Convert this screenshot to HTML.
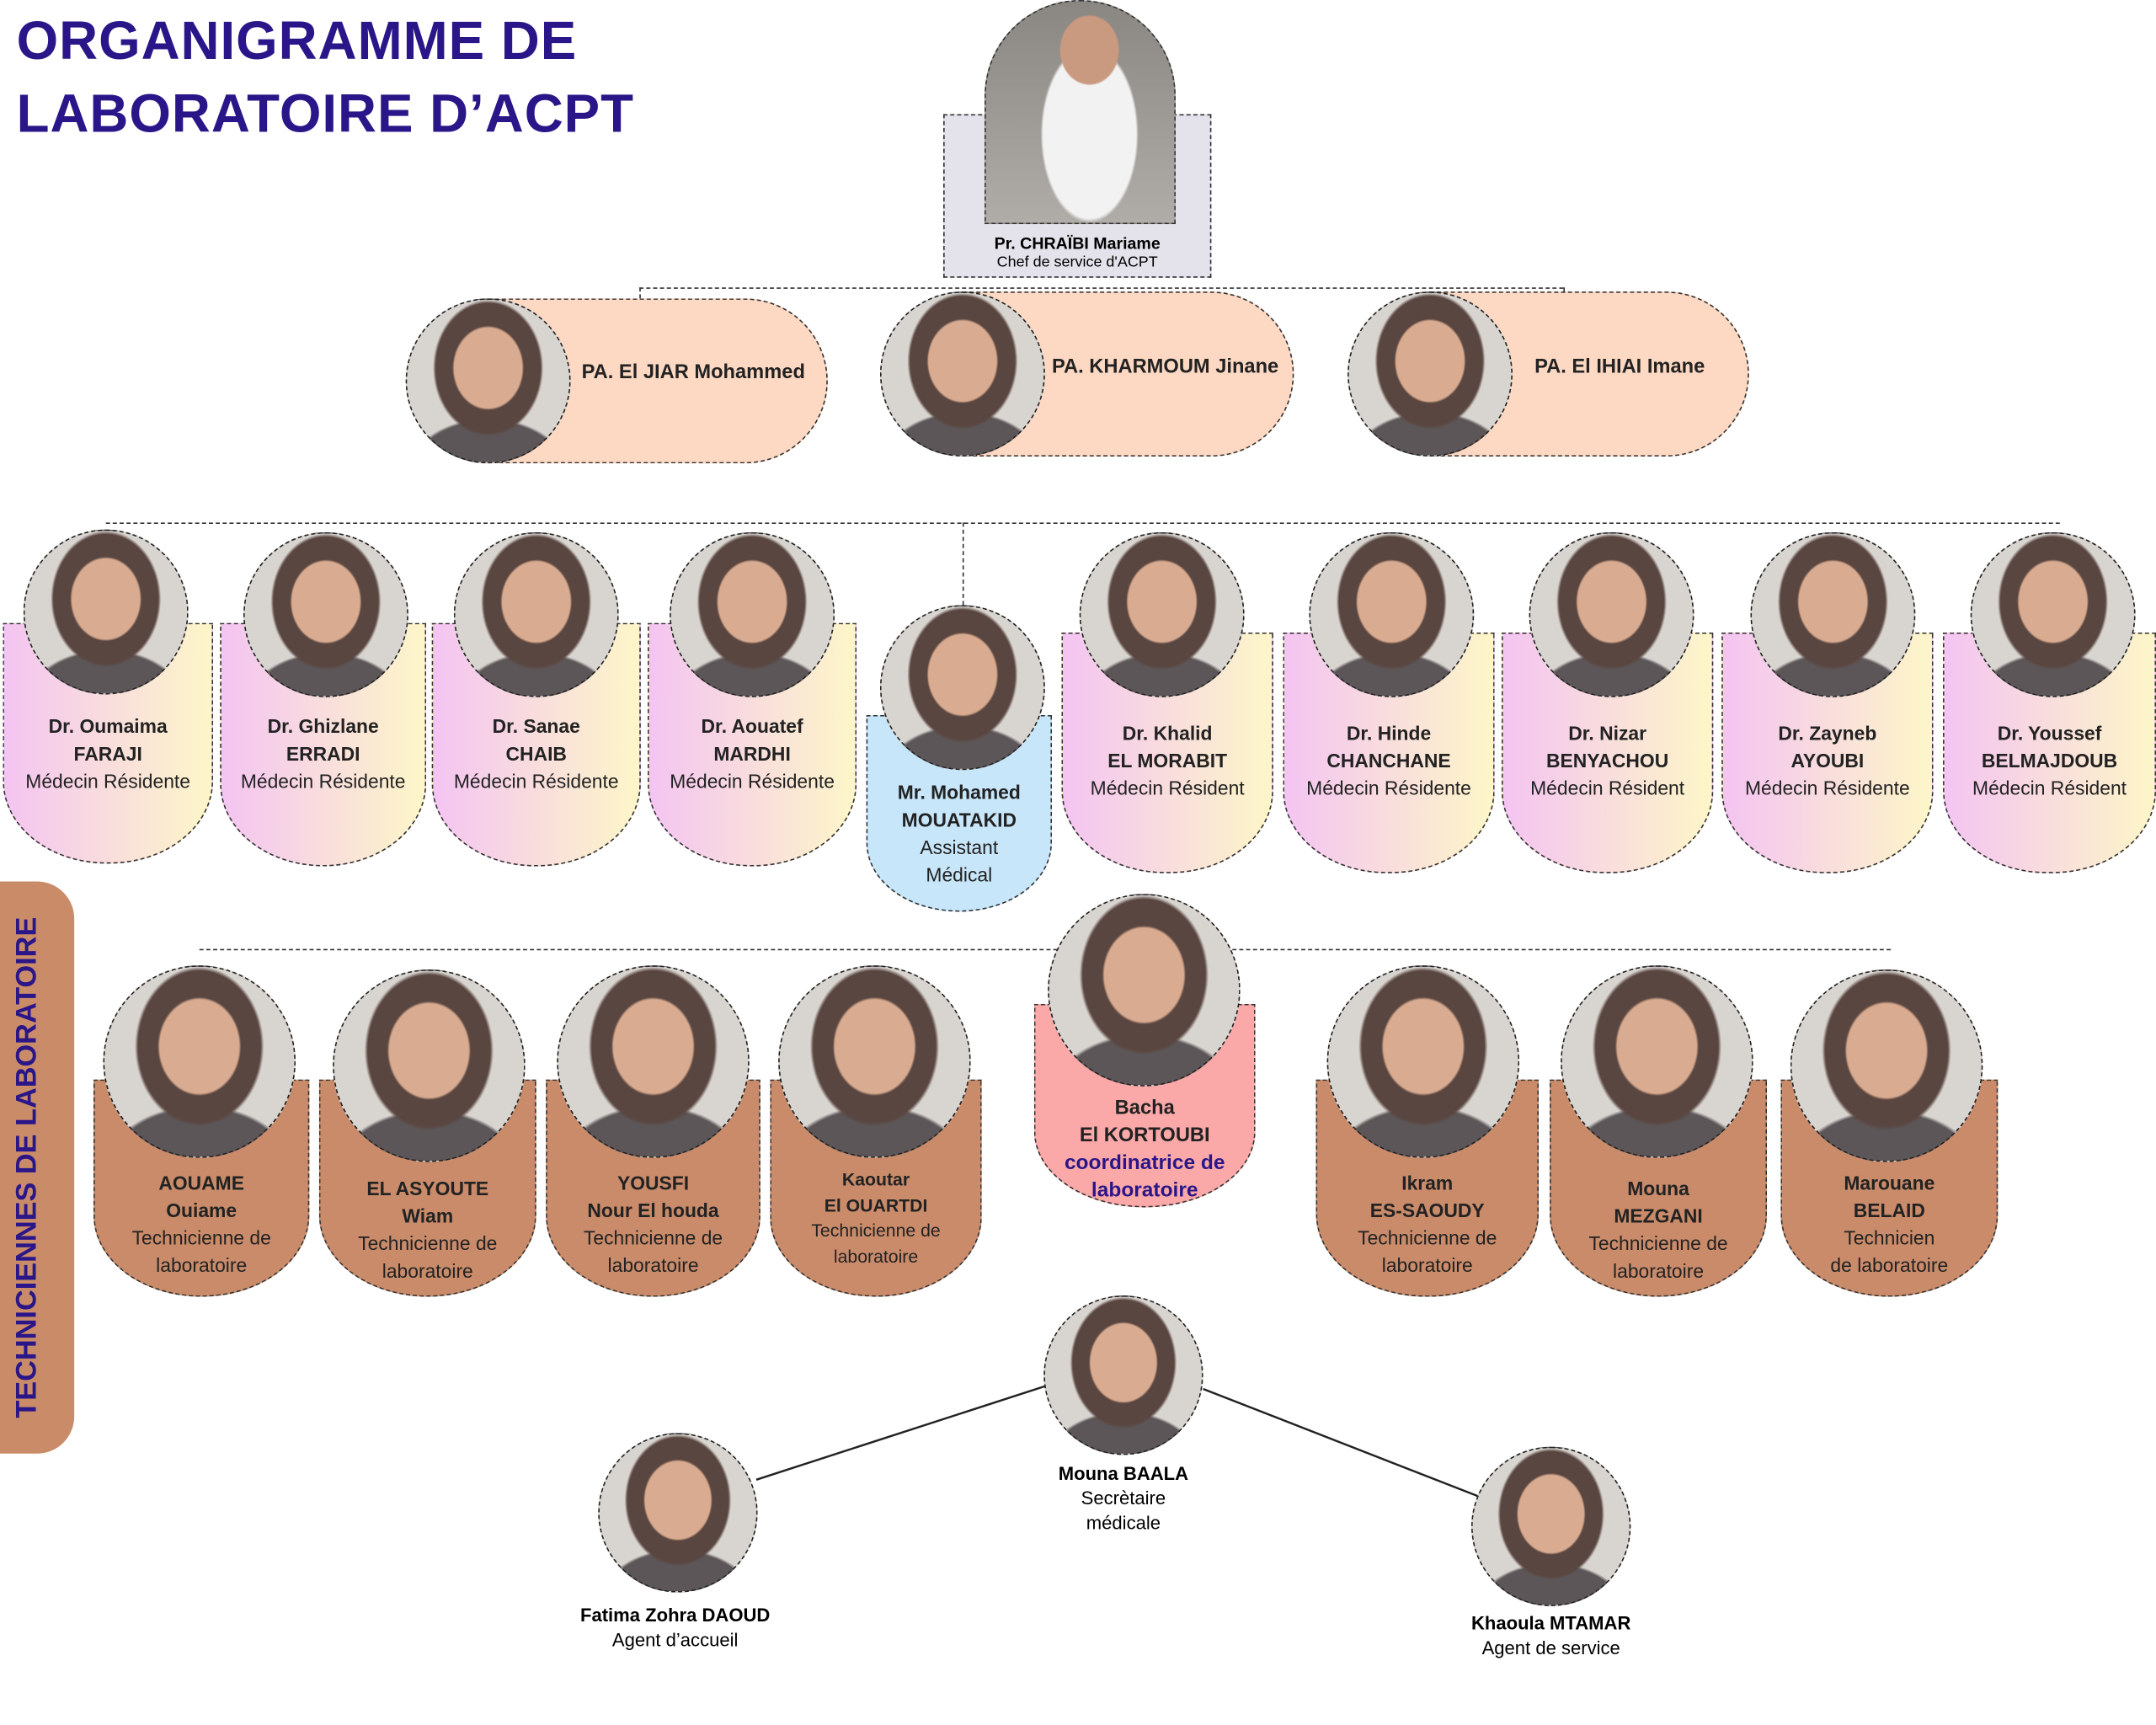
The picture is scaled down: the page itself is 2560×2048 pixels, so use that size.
<!DOCTYPE html>
<html><head><meta charset="utf-8"><style>
html,body{margin:0;padding:0;background:#fff;width:2560px;height:2048px;overflow:hidden}
#w{position:absolute;left:0;top:0;width:1568px;height:1254px;transform:scale(1.6327);transform-origin:0 0;font-family:"Liberation Sans",sans-serif}
.a{position:absolute}
.ph{position:absolute;border-radius:50%;border:1.5px dashed #222;box-sizing:border-box;background:radial-gradient(ellipse 22% 26% at 50% 42%,#d9ab90 0 95%,transparent 100%),radial-gradient(ellipse 34% 42% at 50% 42%,#5a4640 0 95%,transparent 100%),radial-gradient(ellipse 50% 35% at 50% 108%,#5c5658 0 95%,transparent 100%),#d8d4d0;z-index:2}
.card{position:absolute;border:1.5px dashed #333;box-sizing:border-box;border-radius:0 0 75px 75px / 0 0 60px 60px;text-align:center;font-size:14px;color:#222;line-height:20px}
.doc{background:linear-gradient(90deg,#f4c4f2,#fdf6c8);}
.tech{background:#c98b6a;border-radius:0 0 80px 80px/0 0 60px 60px}
.b{font-weight:bold}
.hl{position:absolute;border-top:1px dashed #333;height:0}
.vl{position:absolute;border-left:1px dashed #333;width:0}
.pill{position:absolute;background:#fdd9c3;border:1.5px dashed #333;box-sizing:border-box;border-radius:0 60px 60px 0;font-weight:bold;font-size:14.5px;color:#222}
</style></head><body><div id="w">
<div class="a b" style="left:12px;top:4px;font-size:39px;line-height:53px;color:#2a1688;letter-spacing:0.6px">ORGANIGRAMME DE<br>LABORATOIRE D’ACPT</div>

<div class="a" style="left:686px;top:83px;width:195px;height:119px;background:#e4e2ea;border:1.5px dashed #333;box-sizing:border-box"></div>
<div class="a" style="left:716px;top:0;width:139px;height:163px;border-radius:70px 70px 0 0;border:1.5px dashed #333;box-sizing:border-box;background:radial-gradient(ellipse 16% 16% at 55% 22%,#c99a80 0 95%,transparent 100%),radial-gradient(ellipse 26% 40% at 55% 60%,#f2f2f2 0 95%,transparent 100%),linear-gradient(#8a8682,#b0aca8)"></div>
<div class="a b" style="left:686px;top:170px;width:195px;text-align:center;font-size:12px">Pr. CHRAÏBI Mariame</div>
<div class="a" style="left:686px;top:185px;width:195px;text-align:center;font-size:11px">Chef de service d'ACPT</div>

<div class="hl" style="left:465px;top:209px;width:672px"></div>
<div class="vl" style="left:465px;top:209px;height:8px"></div>
<div class="vl" style="left:1137px;top:209px;height:4px"></div>

<div class="pill" style="left:355px;top:217px;width:247px;height:120px"><span class="a" style="left:67px;top:45px">PA. El JIAR Mohammed</span></div>
<div class="ph" style="left:295px;top:217px;width:120px;height:120px"></div>
<div class="pill" style="left:700px;top:212px;width:241px;height:120px"><span class="a" style="left:64px;top:46px">PA. KHARMOUM Jinane</span></div>
<div class="ph" style="left:640px;top:212px;width:120px;height:120px"></div>
<div class="pill" style="left:1040px;top:212px;width:232px;height:120px"><span class="a" style="left:75px;top:46px">PA. El IHIAI Imane</span></div>
<div class="ph" style="left:980px;top:212px;width:120px;height:120px"></div>

<div class="hl" style="left:77px;top:380px;width:1421px"></div>
<div class="vl" style="left:700px;top:380px;height:60px"></div>

<div class="card doc" style="left:2px;top:453px;width:153px;height:175px"><div style="margin-top:64px"><span class="b">Dr. Oumaima<br>FARAJI</span><br>Médecin Résidente</div></div>
<div class="ph" style="left:17px;top:385px;width:120px;height:120px"></div>
<div class="card doc" style="left:160px;top:453px;width:150px;height:177px"><div style="margin-top:64px"><span class="b">Dr. Ghizlane<br>ERRADI</span><br>Médecin Résidente</div></div>
<div class="ph" style="left:177px;top:387px;width:120px;height:120px"></div>
<div class="card doc" style="left:314px;top:453px;width:152px;height:177px"><div style="margin-top:64px"><span class="b">Dr. Sanae<br>CHAIB</span><br>Médecin Résidente</div></div>
<div class="ph" style="left:330px;top:387px;width:120px;height:120px"></div>
<div class="card doc" style="left:471px;top:453px;width:152px;height:177px"><div style="margin-top:64px"><span class="b">Dr. Aouatef<br>MARDHI</span><br>Médecin Résidente</div></div>
<div class="ph" style="left:487px;top:387px;width:120px;height:120px"></div>

<div class="card" style="left:630px;top:520px;width:135px;height:143px;background:#c8e6fa;border-radius:0 0 67px 67px/0 0 50px 50px"><div style="margin-top:45px"><span class="b">Mr. Mohamed<br>MOUATAKID</span><br>Assistant<br>Médical</div></div>
<div class="ph" style="left:640px;top:440px;width:120px;height:120px"></div>

<div class="card doc" style="left:772px;top:460px;width:154px;height:175px"><div style="margin-top:62px"><span class="b">Dr. Khalid<br>EL MORABIT</span><br>Médecin Résident</div></div>
<div class="ph" style="left:785px;top:387px;width:120px;height:120px"></div>
<div class="card doc" style="left:933px;top:460px;width:154px;height:175px"><div style="margin-top:62px"><span class="b">Dr. Hinde<br>CHANCHANE</span><br>Médecin Résidente</div></div>
<div class="ph" style="left:952px;top:387px;width:120px;height:120px"></div>
<div class="card doc" style="left:1092px;top:460px;width:154px;height:175px"><div style="margin-top:62px"><span class="b">Dr. Nizar<br>BENYACHOU</span><br>Médecin Résident</div></div>
<div class="ph" style="left:1112px;top:387px;width:120px;height:120px"></div>
<div class="card doc" style="left:1252px;top:460px;width:154px;height:175px"><div style="margin-top:62px"><span class="b">Dr. Zayneb<br>AYOUBI</span><br>Médecin Résidente</div></div>
<div class="ph" style="left:1273px;top:387px;width:120px;height:120px"></div>
<div class="card doc" style="left:1413px;top:460px;width:155px;height:175px"><div style="margin-top:62px"><span class="b">Dr. Youssef<br>BELMAJDOUB</span><br>Médecin Résident</div></div>
<div class="ph" style="left:1433px;top:387px;width:120px;height:120px"></div>

<div class="a" style="left:0;top:641px;width:54px;height:416px;background:#c98b68;border-radius:0 27px 27px 0"></div>
<div class="a b" style="left:20px;top:849px;width:400px;margin-left:-200px;text-align:center;font-size:21px;color:#2a1688;transform:rotate(-90deg);line-height:24px;margin-top:-12px">TECHNICIENNES DE LABORATOIRE</div>

<div class="hl" style="left:145px;top:690px;width:1230px"></div>

<div class="card tech" style="left:68px;top:785px;width:157px;height:158px"><div style="margin-top:64px"><span class="b">AOUAME<br>Ouiame</span><br>Technicienne de<br>laboratoire</div></div>
<div class="ph" style="left:75px;top:702px;width:140px;height:140px"></div>
<div class="card tech" style="left:232px;top:785px;width:158px;height:158px"><div style="margin-top:68px"><span class="b">EL ASYOUTE<br>Wiam</span><br>Technicienne de<br>laboratoire</div></div>
<div class="ph" style="left:242px;top:705px;width:140px;height:140px"></div>
<div class="card tech" style="left:397px;top:785px;width:156px;height:158px"><div style="margin-top:64px"><span class="b">YOUSFI<br>Nour El houda</span><br>Technicienne de<br>laboratoire</div></div>
<div class="ph" style="left:405px;top:702px;width:140px;height:140px"></div>
<div class="card tech" style="left:560px;top:785px;width:154px;height:158px;font-size:13px;line-height:18.5px"><div style="margin-top:63px"><span class="b">Kaoutar<br>El OUARTDI</span><br>Technicienne de<br>laboratoire</div></div>
<div class="ph" style="left:566px;top:702px;width:140px;height:140px"></div>

<div class="card" style="left:752px;top:730px;width:161px;height:148px;background:#fba8a8;border-radius:0 0 80px 80px/0 0 55px 55px;font-size:14.5px"><div style="margin-top:65px"><span class="b">Bacha<br>El KORTOUBI</span><br><span class="b" style="color:#2a1688;font-size:15px">coordinatrice de<br>laboratoire</span></div></div>
<div class="ph" style="left:762px;top:650px;width:140px;height:140px"></div>

<div class="card tech" style="left:957px;top:785px;width:162px;height:158px"><div style="margin-top:64px"><span class="b">Ikram<br>ES-SAOUDY</span><br>Technicienne de<br>laboratoire</div></div>
<div class="ph" style="left:965px;top:702px;width:140px;height:140px"></div>
<div class="card tech" style="left:1127px;top:785px;width:158px;height:158px"><div style="margin-top:68px"><span class="b">Mouna<br>MEZGANI</span><br>Technicienne de<br>laboratoire</div></div>
<div class="ph" style="left:1135px;top:702px;width:140px;height:140px"></div>
<div class="card tech" style="left:1295px;top:785px;width:158px;height:158px"><div style="margin-top:64px"><span class="b">Marouane<br>BELAID</span><br>Technicien<br>de laboratoire</div></div>
<div class="ph" style="left:1302px;top:705px;width:140px;height:140px"></div>

<svg class="a" style="left:0;top:0" width="1568" height="1254"><line x1="760" y1="1008" x2="550" y2="1076" stroke="#222" stroke-width="1.5"/><line x1="875" y1="1010" x2="1075" y2="1088" stroke="#222" stroke-width="1.5"/></svg>
<div class="ph" style="left:759px;top:942px;width:116px;height:116px"></div>
<div class="a" style="left:717px;top:1063px;width:200px;text-align:center;font-size:13.5px;line-height:18px"><b>Mouna BAALA</b><br>Secrètaire<br>médicale</div>
<div class="ph" style="left:435px;top:1042px;width:116px;height:116px"></div>
<div class="a" style="left:391px;top:1166px;width:200px;text-align:center;font-size:13.5px;line-height:18px"><b>Fatima Zohra DAOUD</b><br>Agent d’accueil</div>
<div class="ph" style="left:1070px;top:1052px;width:116px;height:116px"></div>
<div class="a" style="left:1028px;top:1172px;width:200px;text-align:center;font-size:13.5px;line-height:18px"><b>Khaoula MTAMAR</b><br>Agent de service</div>
</div></body></html>
